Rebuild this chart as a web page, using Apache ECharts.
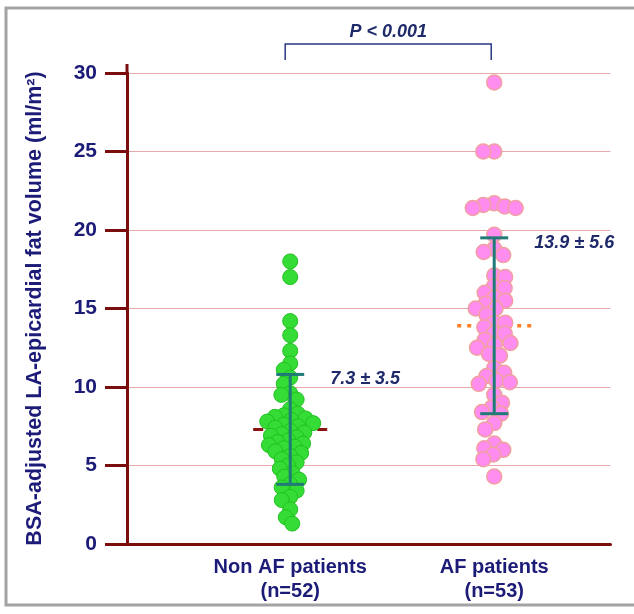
<!DOCTYPE html>
<html>
<head>
<meta charset="utf-8">
<script src="https://cdn.jsdelivr.net/npm/echarts@6/dist/echarts.min.js"></script>
<style>
  html, body { margin: 0; padding: 0; background: #fff; }
  #main { width: 634px; height: 614px; }
</style>
</head>
<body>
<div id="main"></div>
<script>
// groups
const categories = ['Non AF patients', 'AF patients'];
const counts = [52, 53];
const groupPos = [1, 2];

// individual values (ml/m2)
const nonAF = [18.0, 17.0, 14.2, 13.3, 12.3, 11.5, 11.1, 10.6, 10.2, 9.6, 9.5, 9.2, 8.6,
  8.3, 8.2, 8.1, 8.0, 7.9, 7.8, 7.7, 7.6, 7.5, 7.4, 7.2, 7.1, 7.0, 6.9, 6.8, 6.6, 6.5,
  6.4, 6.3, 6.2, 6.1, 5.9, 5.8, 5.6, 5.4, 5.2, 5.0, 4.8, 4.5, 4.3, 4.1, 3.8, 3.6, 3.4,
  3.0, 2.8, 2.2, 1.7, 1.3];
const af = [29.4, 25.0, 25.0, 21.7, 21.6, 21.5, 21.4, 21.4, 19.7, 18.8, 18.6, 18.4, 17.1,
  17.0, 16.4, 16.3, 16.0, 15.7, 15.5, 15.3, 15.0, 15.0, 14.6, 14.1, 14.1, 13.8, 13.4, 13.4,
  13.0, 12.8, 12.7, 12.5, 12.1, 12.0, 11.2, 10.9, 10.7, 10.4, 10.3, 10.2, 9.5, 9.0, 8.7,
  8.4, 8.3, 7.7, 7.3, 6.4, 6.1, 6.0, 5.7, 5.4, 4.3];

// summary stats (mean ± SD)
const means = [7.3, 13.9];
const sds = [3.5, 5.6];
const pLabel = 'P < 0.001';

const W = 634, H = 614;
const grid = { left: 127, right: 23.5, top: 73, bottom: 70 };
const xMin = 0.2, xMax = 2.57, yMin = 0, yMax = 30;
const kx = (W - grid.left - grid.right) / (xMax - xMin);
const ky = (H - grid.top - grid.bottom) / (yMax - yMin);

const navy = '#1c1c78';
const maroon = '#7a0d0d';
const teal = '#1f7a78';
const FONT = '"Liberation Sans", Arial, sans-serif';

// simple beeswarm: spread points sideways so they don't pile up (pixel distance d)
function swarm(vals, center, d) {
  const order = vals.map((v, i) => i).sort((a, b) => vals[b] - vals[a]);
  const placed = [];
  const out = new Array(vals.length);
  let flip = 1;
  order.forEach(i => {
    const y = vals[i] * ky;
    let cands = [0];
    placed.forEach(p => {
      const dy = Math.abs(p.y - y);
      if (dy < d) {
        const h = Math.sqrt(d * d - dy * dy);
        cands.push(p.x + h, p.x - h);
      }
    });
    cands.sort((a, b) => Math.abs(a) - Math.abs(b) || (a - b) * flip);
    let x = 0;
    for (const c of cands) {
      if (placed.every(p => (p.x - c) * (p.x - c) + (p.y - y) * (p.y - y) >= d * d - 1e-6)) { x = c; break; }
    }
    flip = -flip;
    placed.push({ x, y });
    out[i] = [center + x / kx, vals[i]];
  });
  return out;
}

const chart = echarts.init(document.getElementById('main'));

const statData = groupPos.map((g, i) => [g, means[i], sds[i], i]);
const meanStyles = [
  { stroke: '#8b1212', lineWidth: 3, lineDash: [10, 6] },
  { stroke: '#ff7f27', lineWidth: 3.5, lineDash: [4, 6] }
];

chart.setOption({
  animation: false,
  backgroundColor: '#fff',
  grid: grid,
  graphic: [{
    type: 'rect',
    shape: { x: 6, y: 8, width: 700, height: 597 },
    style: { fill: 'none', stroke: '#a3a3a3', lineWidth: 3 },
    silent: true
  }, {
    // axis line runs a little past the top tick
    type: 'line',
    shape: { x1: grid.left, y1: grid.top - 9, x2: grid.left, y2: grid.top },
    style: { stroke: maroon, lineWidth: 3 },
    silent: true
  }],
  xAxis: {
    type: 'value',
    min: xMin, max: xMax,
    splitLine: { show: false },
    axisTick: { show: false },
    axisLine: { lineStyle: { color: maroon, width: 3 } },
    axisLabel: {
      customValues: groupPos,
      margin: 11,
      formatter: v => {
        const i = groupPos.indexOf(v);
        return i < 0 ? '' : categories[i] + '\n(n=' + counts[i] + ')';
      },
      color: navy, fontWeight: 'bold', fontSize: 20, lineHeight: 24, fontFamily: FONT
    }
  },
  yAxis: {
    type: 'value',
    min: yMin, max: yMax, interval: 5,
    name: 'BSA-adjusted LA-epicardial fat volume (ml/m²)',
    nameLocation: 'middle',
    nameGap: 81,
    nameTextStyle: { color: navy, fontWeight: 'bold', fontSize: 21.5, fontFamily: FONT },
    axisLine: { show: true, lineStyle: { color: maroon, width: 3 } },
    axisTick: { show: true, length: 22, lineStyle: { color: maroon, width: 3 } },
    axisLabel: { margin: 30, color: navy, fontWeight: 'bold', fontSize: 21, fontFamily: FONT },
    splitLine: { lineStyle: { color: '#e6a9a9', width: 1 } }
  },
  series: [
    {
      // mean lines (behind dots)
      type: 'custom',
      z: 1,
      data: statData,
      renderItem: (params, api) => {
        const p = api.coord([api.value(0), api.value(1)]);
        const st = meanStyles[api.value(3)];
        return {
          type: 'line',
          shape: { x1: p[0] - 37, y1: p[1], x2: p[0] + 37, y2: p[1] },
          style: Object.assign({ fill: null }, st)
        };
      }
    },
    {
      name: categories[0],
      type: 'scatter',
      z: 2,
      symbolSize: 15,
      itemStyle: { color: '#35dc35', borderColor: '#22c022', borderWidth: 1, opacity: 1 },
      data: swarm(nonAF, groupPos[0], 9)
    },
    {
      name: categories[1],
      type: 'scatter',
      z: 2,
      symbolSize: 15,
      itemStyle: { color: '#ff8df0', borderColor: '#f0a0a0', borderWidth: 1.5, opacity: 1 },
      data: swarm(af, groupPos[1], 11)
    },
    {
      // SD error bars + labels
      type: 'custom',
      z: 3,
      data: statData,
      renderItem: (params, api) => {
        const x = api.value(0), m = api.value(1), s = api.value(2);
        const top = api.coord([x, m + s]);
        const bot = api.coord([x, m - s]);
        const ls = { stroke: teal, lineWidth: 3 };
        return {
          type: 'group',
          children: [
            { type: 'line', shape: { x1: top[0], y1: top[1], x2: bot[0], y2: bot[1] }, style: ls },
            { type: 'line', shape: { x1: top[0] - 14, y1: top[1], x2: top[0] + 14, y2: top[1] }, style: ls },
            { type: 'line', shape: { x1: bot[0] - 14, y1: bot[1], x2: bot[0] + 14, y2: bot[1] }, style: ls },
            {
              type: 'text', x: top[0] + 40, y: top[1] + 5,
              style: {
                text: m.toFixed(1) + ' ± ' + s.toFixed(1),
                fill: '#1f2a6b', align: 'left', verticalAlign: 'middle',
                font: 'italic bold 18px ' + FONT
              }
            }
          ]
        };
      }
    },
    {
      // significance bracket
      type: 'custom',
      z: 3,
      data: [[groupPos[0], groupPos[1]]],
      renderItem: (params, api) => {
        const a = api.coord([api.value(0), yMax]);
        const b = api.coord([api.value(1), yMax]);
        const l = a[0] - 5, r = b[0] - 3, yb = a[1] - 13, yt = a[1] - 29;
        return {
          type: 'group',
          children: [
            { type: 'polyline', shape: { points: [[l, yb], [l, yt], [r, yt], [r, yb]] },
              style: { stroke: '#2a3684', lineWidth: 1.5, fill: null } },
            { type: 'text', x: (l + r) / 2, y: yt - 12,
              style: { text: pLabel, fill: '#1f2a6b', align: 'center', verticalAlign: 'middle',
                font: 'italic bold 18px ' + FONT } }
          ]
        };
      }
    }
  ]
});
</script>
</body>
</html>
